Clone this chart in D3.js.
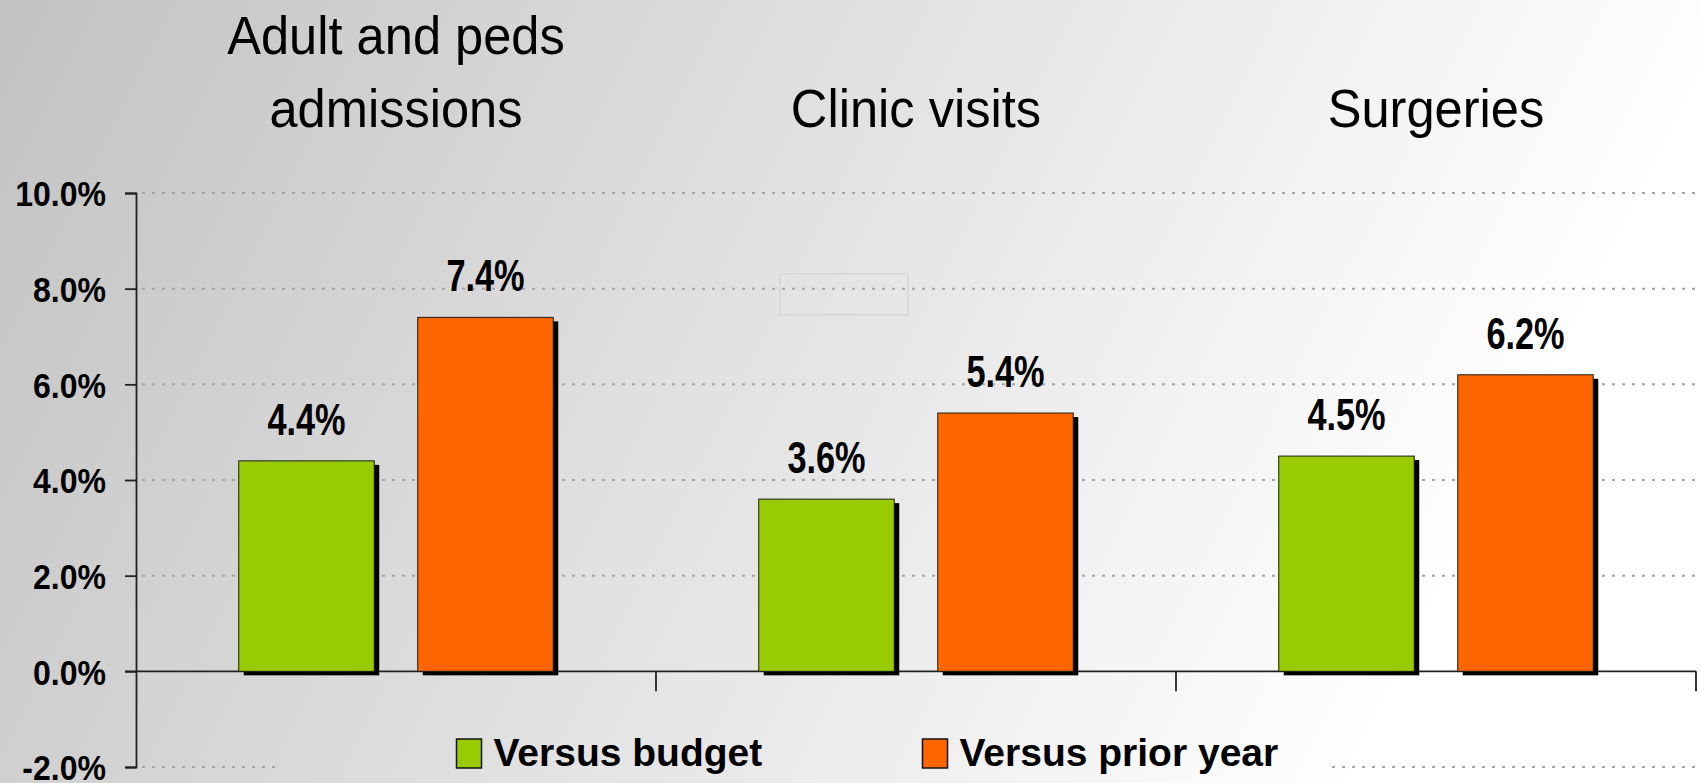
<!DOCTYPE html>
<html>
<head>
<meta charset="utf-8">
<script src="https://cdn.jsdelivr.net/npm/d3@7"></script>
<style>
body { margin: 0; }
svg text { font-family: "Liberation Sans", Arial, sans-serif; fill: #000; }
</style>
</head>
<body>
<svg id="chart" width="1700" height="783"></svg>
<script>
var categories = ["Adult and peds admissions", "Clinic visits", "Surgeries"];
var titleLines = [["Adult and peds", "admissions"], ["Clinic visits"], ["Surgeries"]];
var seriesNames = ["Versus budget", "Versus prior year"];
var versusBudget = [4.4, 3.6, 4.5];
var versusPriorYear = [7.4, 5.4, 6.2];
var yTicks = [-2, 0, 2, 4, 6, 8, 10];
var gridTicks = [-2, 2, 4, 6, 8, 10];
var colors = ["#99cc00", "#ff6600"];

var W = 1700, H = 783;
var m = {top: 193, left: 136, right: 4, bottom: 16};

var svg = d3.select("#chart");

// background gradient, grey top-left to white on the right
var defs = svg.append("defs");
var grad = defs.append("linearGradient").attr("id", "bg")
  .attr("gradientUnits", "userSpaceOnUse")
  .attr("x1", 0).attr("y1", 0).attr("x2", 1400).attr("y2", 700);
grad.append("stop").attr("offset", "0%").attr("stop-color", "#c2c2c2");
grad.append("stop").attr("offset", "100%").attr("stop-color", "#ffffff");
svg.append("rect").attr("width", W).attr("height", H).attr("fill", "url(#bg)");

var x = d3.scaleBand().domain(categories).range([m.left, W - m.right]);
var xs = d3.scaleBand().domain(seriesNames).range([0, x.bandwidth()])
  .paddingInner(0.243).paddingOuter(0.574);
var y = d3.scaleLinear().domain([-2, 10]).range([H - m.bottom, m.top]);

// dotted gridlines
svg.append("g").selectAll("line").data(gridTicks).enter().append("line")
  .attr("x1", m.left + 6).attr("x2", W - m.right)
  .attr("y1", function(d) { return y(d); })
  .attr("y2", function(d) { return y(d); })
  .attr("stroke", "#a4a4a4").attr("stroke-width", 2)
  .attr("stroke-dasharray", "3,7");

// legend box hides the bottom gridline
var legendX = 280;
svg.append("rect").attr("x", legendX).attr("y", 718)
  .attr("width", 1047).attr("height", H - 718).attr("fill", "url(#bg)");

// stray empty box left in the original slide
svg.append("rect")
  .attr("x", x(categories[1]) + 124).attr("y", y(8) - 15)
  .attr("width", 128).attr("height", 41)
  .attr("fill", "none").attr("stroke", "#d6d6d6").attr("stroke-width", 1.5);

// y axis
var yAxis = svg.append("g").attr("transform", "translate(" + m.left + ",0)")
  .call(d3.axisLeft(y).tickValues(yTicks).tickSize(11).tickPadding(19)
    .tickFormat(function(d) { return d.toFixed(1) + "%"; }));
yAxis.select(".domain").attr("stroke", "#222").attr("stroke-width", 1.8);
yAxis.selectAll(".tick line").attr("stroke", "#222").attr("stroke-width", 1.8);
yAxis.selectAll(".tick text")
  .attr("x", null).attr("dy", "0.36em")
  .attr("transform", "translate(-30,0) scale(0.89,1)")
  .style("font-size", "36px").style("font-weight", "bold")
  .attr("fill", "#000");

// zero line with category ticks
svg.append("line").attr("x1", m.left - 11).attr("x2", W - m.right)
  .attr("y1", y(0)).attr("y2", y(0)).attr("stroke", "#222").attr("stroke-width", 1.8);
svg.append("g").selectAll("line").data(categories).enter().append("line")
  .attr("x1", function(d) { return x(d) + x.bandwidth(); })
  .attr("x2", function(d) { return x(d) + x.bandwidth(); })
  .attr("y1", y(0)).attr("y2", y(0) + 20)
  .attr("stroke", "#222").attr("stroke-width", 1.8);

var rows = categories.map(function(c, i) {
  return {cat: c, vals: [
    {s: seriesNames[0], v: versusBudget[i], col: colors[0]},
    {s: seriesNames[1], v: versusPriorYear[i], col: colors[1]}
  ]};
});

var groups = svg.append("g").selectAll("g").data(rows).enter().append("g")
  .attr("transform", function(d) { return "translate(" + x(d.cat) + ",0)"; });

// shadows
groups.selectAll(".shadow").data(function(d) { return d.vals; }).enter().append("rect")
  .attr("class", "shadow")
  .attr("x", function(d) { return xs(d.s) + 5; })
  .attr("y", function(d) { return y(d.v) + 4; })
  .attr("width", xs.bandwidth())
  .attr("height", function(d) { return y(0) - y(d.v); })
  .attr("fill", "#000");

groups.selectAll(".bar").data(function(d) { return d.vals; }).enter().append("rect")
  .attr("class", "bar")
  .attr("x", function(d) { return xs(d.s); })
  .attr("y", function(d) { return y(d.v); })
  .attr("width", xs.bandwidth())
  .attr("height", function(d) { return y(0) - y(d.v); })
  .attr("fill", function(d) { return d.col; })
  .attr("stroke", "#1a1a1a").attr("stroke-width", 1);

groups.selectAll(".val").data(function(d) { return d.vals; }).enter().append("text")
  .attr("class", "val")
  .attr("transform", function(d) {
    return "translate(" + (xs(d.s) + xs.bandwidth() / 2) + "," + (y(d.v) - 26) + ") scale(0.78,1)";
  })
  .attr("text-anchor", "middle")
  .style("font-size", "44px").style("font-weight", "bold")
  .text(function(d) { return d.v.toFixed(1) + "%"; });

// category titles above the plot
var titles = svg.append("g").selectAll("g").data(categories).enter().append("g");
titles.each(function(c, i) {
  var lines = titleLines[i];
  var g = d3.select(this);
  lines.forEach(function(t, j) {
    var base = 127 - (lines.length - 1 - j) * 73;
    g.append("text")
      .attr("transform", "translate(" + (x(c) + x.bandwidth() / 2) + "," + base + ") scale(0.955,1)")
      .attr("text-anchor", "middle")
      .style("font-size", "53px")
      .text(t);
  });
});

// legend
var legendPos = [456.5, 922.5];
var lg = svg.append("g").selectAll("g").data(seriesNames).enter().append("g")
  .attr("transform", function(d, i) { return "translate(" + legendPos[i] + ",739)"; });
lg.append("rect").attr("width", 25).attr("height", 29)
  .attr("fill", function(d, i) { return colors[i]; })
  .attr("stroke", "#111").attr("stroke-width", 1.5);
lg.append("text").attr("x", 37).attr("y", 27)
  .style("font-size", "39px").style("font-weight", "bold")
  .text(function(d) { return d; });
</script>
</body>
</html>
